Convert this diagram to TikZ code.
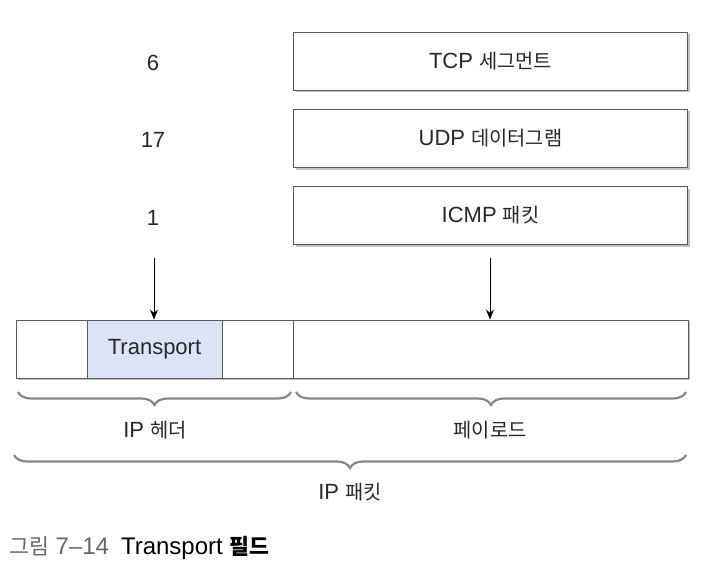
\documentclass[tikz,border=0pt]{standalone}
\usepackage{fontspec}
\setmainfont{Liberation Sans}
\newfontfamily\kr[Scale=0.9]{Noto Sans CJK KR}
\usetikzlibrary{shadows,decorations.pathreplacing,arrows.meta}
\definecolor{tfill}{RGB}{220,227,245}
\definecolor{txt}{RGB}{40,40,40}
\definecolor{brcol}{RGB}{135,135,135}
\begin{document}
\begin{tikzpicture}[x=1pt,y=-1pt,
  box/.style={draw=black!65, line width=0.9pt, fill=white, minimum height=58pt, inner sep=0pt,
    drop shadow={shadow xshift=2pt, shadow yshift=-2pt, fill=black!35, opacity=0.7}},
  lbl/.style={font=\fontsize{22}{26}\selectfont, text=txt},
  brc/.style={decorate, decoration={brace, amplitude=13pt}, draw=brcol, line width=2.2pt},
  arr/.style={-{Stealth[length=10pt,width=8pt]}, line width=0.9pt}]
\useasboundingbox (0,0) rectangle (701,567);
% top boxes
\node[box, lbl, minimum width=394pt] (tcp) at (490.5,61) {TCP {\kr 세그먼트}};
\node[box, lbl, minimum width=394pt] (udp) at (490.5,138.5) {UDP {\kr 데이터그램}};
\node[box, lbl, minimum width=394pt] (icmp) at (490.5,215.5) {ICMP {\kr 패킷}};
% numbers
\node[lbl] (n6) at (153,63) {6};
\node[lbl] (n17) at (153,140) {17};
\node[lbl] (n1) at (153,218) {1};
% packet row
\node[box, minimum width=71pt] (c1) at (51.5,349) {};
\node[box, lbl, fill=tfill, minimum width=135pt] (tr) at (154.5,349) {Transport};
\node[box, minimum width=71pt] (c3) at (257.5,349) {};
\node[box, minimum width=395pt] (pl) at (490.5,349) {};
% arrows
\coordinate (a1s) at (154,258);
\coordinate (a2s) at (490,258);
\draw[arr] (a1s) -- (a1s |- tr.north);
\draw[arr] (a2s) -- (a2s |- pl.north);
% braces
\coordinate (b1a) at (18,392); \coordinate (b1b) at (291,392);
\coordinate (b2a) at (296,392); \coordinate (b2b) at (686,392);
\coordinate (b3a) at (14,455); \coordinate (b3b) at (686,455);
\draw[brc] (b1b) -- (b1a);
\draw[brc] (b2b) -- (b2a);
\draw[brc] (b3b) -- (b3a);
\node[lbl] (lh) at (155,430) {IP {\kr 헤더}};
\node[lbl] (lp) at (490,430) {\kr 페이로드};
\node[lbl] (lk) at (350,492) {IP {\kr 패킷}};
% caption
\node[anchor=west, inner sep=0pt, font=\fontsize{24}{28}\selectfont] (cap) at (9,548) {\textcolor{black!60}{{\kr 그림} 7–14}\hspace{12pt}\textcolor{black}{Transport {\kr\bfseries 필드}}};
\end{tikzpicture}
\end{document}
